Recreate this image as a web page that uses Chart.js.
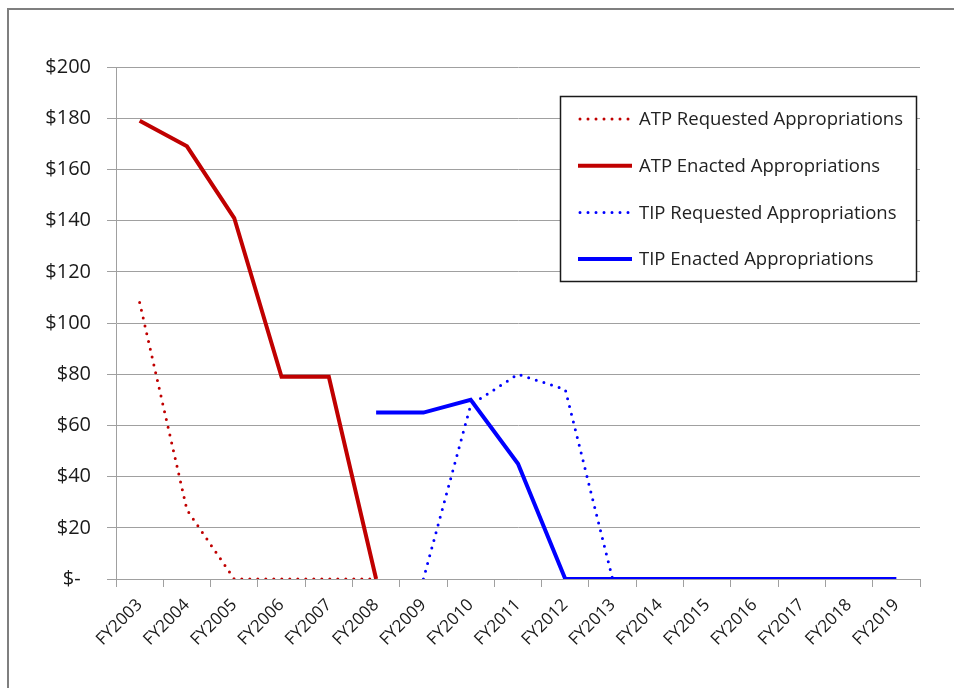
<!DOCTYPE html>
<html>
<head>
<meta charset="utf-8">
<script src="https://cdn.jsdelivr.net/npm/chart.js@4"></script>
<style>
    body { margin: 0; background: #fff; }
    #wrap { position: relative; width: 954px; height: 688px; overflow: hidden; }
    #frame { position: absolute; left: 7px; top: 8px; width: 960px; height: 700px; border: 2px solid #7f7f7f; pointer-events: none; }
</style>
</head>
<body>
<div id="wrap">
    <canvas id="chart" width="954" height="688"></canvas>
    <div id="frame"></div>
</div>
<script>
const years = ['FY2003', 'FY2004', 'FY2005', 'FY2006', 'FY2007', 'FY2008', 'FY2009', 'FY2010', 'FY2011',
    'FY2012', 'FY2013', 'FY2014', 'FY2015', 'FY2016', 'FY2017', 'FY2018', 'FY2019'];
const yTicks = [0, 20, 40, 60, 80, 100, 120, 140, 160, 180, 200];

// values in $ millions
const atpRequested = [108, 27, 0, 0, 0, 0, null, null, null, null, null, null, null, null, null, null, null];
const atpEnacted = [179, 169, 141, 79, 79, 0, null, null, null, null, null, null, null, null, null, null, null];
const tipRequested = [null, null, null, null, null, null, 0, 68, 80, 74, 0, null, null, null, null, null, null];
const tipEnacted = [null, null, null, null, null, 65, 65, 70, 45, 0, 0, 0, 0, 0, 0, 0, 0];

const RED = '#c00000';
const BLUE = '#0000ff';
const GRID = '#a0a0a0';
const FONT = "'Open Sans', 'DejaVu Sans', sans-serif";

function dotted(label, data, color) {
    return {
        label, data, borderColor: color, backgroundColor: color,
        borderWidth: 3, borderDash: [0, 8], borderCapStyle: 'round',
        pointRadius: 0, tension: 0, spanGaps: false
    };
}

function solid(label, data, color) {
    return {
        label, data, borderColor: color, backgroundColor: color,
        borderWidth: 4, borderCapStyle: 'butt', borderJoinStyle: 'miter',
        pointRadius: 0, tension: 0, spanGaps: false
    };
}

// boxed legend like the original, drawn over the plot
const boxLegend = {
    id: 'boxLegend',
    afterDraw(chart) {
        const ctx = chart.ctx;
        const x = 560.5, y = 96.5, w = 356, h = 185;
        ctx.save();
        ctx.fillStyle = '#fff';
        ctx.fillRect(x, y, w, h);
        ctx.strokeStyle = '#1a1a1a';
        ctx.lineWidth = 1.5;
        ctx.strokeRect(x, y, w, h);
        ctx.font = '18.5px ' + FONT;
        ctx.textBaseline = 'middle';
        chart.data.datasets.forEach((ds, i) => {
            const cy = 119 + i * 46.7;
            ctx.beginPath();
            ctx.strokeStyle = ds.borderColor;
            ctx.lineWidth = ds.borderWidth;
            ctx.lineCap = ds.borderCapStyle;
            ctx.setLineDash(ds.borderDash || []);
            ctx.moveTo(ds.borderDash ? 580 : 578, cy);
            ctx.lineTo(632, cy);
            ctx.stroke();
            ctx.setLineDash([]);
            ctx.fillStyle = '#222';
            ctx.fillText(ds.label, 639, cy + 1);
        });
        ctx.restore();
    }
};

new Chart(document.getElementById('chart'), {
    type: 'line',
    data: {
        labels: years,
        datasets: [
            dotted('ATP Requested Appropriations', atpRequested, RED),
            solid('ATP Enacted Appropriations', atpEnacted, RED),
            dotted('TIP Requested Appropriations', tipRequested, BLUE),
            solid('TIP Enacted Appropriations', tipEnacted, BLUE)
        ]
    },
    options: {
        responsive: false,
        animation: false,
        devicePixelRatio: 1,
        layout: { padding: { top: 67, right: 34, left: 0, bottom: 0 } },
        plugins: { legend: { display: false }, tooltip: { enabled: false } },
        scales: {
            x: {
                offset: true,
                grid: { offset: true, drawOnChartArea: false, drawTicks: true, tickLength: 8, color: GRID },
                border: { display: true, color: GRID },
                ticks: {
                    maxRotation: 45, minRotation: 45, autoSkip: false, padding: 8,
                    color: '#1a1a1a', font: { family: FONT, size: 17 }
                },
                afterFit(scale) { scale.height = 109; }
            },
            y: {
                min: 0, max: 200,
                afterBuildTicks(scale) { scale.ticks = yTicks.map(v => ({ value: v })); },
                grid: { color: GRID, tickLength: 9 },
                border: { display: true, color: GRID },
                ticks: {
                    padding: 16, color: '#1a1a1a', font: { family: FONT, size: 20 },
                    callback: v => v === 0 ? '$-  ' : '$' + v
                },
                afterFit(scale) { scale.width = 116; }
            }
        }
    },
    plugins: [boxLegend]
});
</script>
</body>
</html>
